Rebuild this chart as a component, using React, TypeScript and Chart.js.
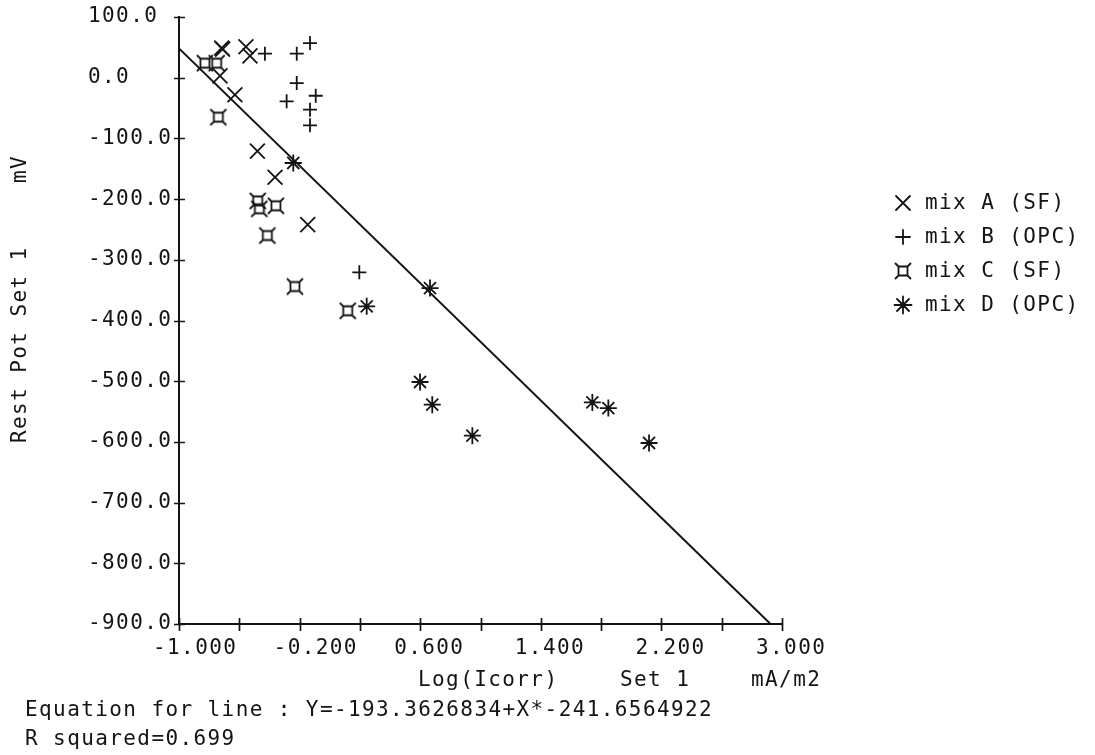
import React, { useEffect, useRef } from 'react';
import { Chart, registerables } from 'chart.js';

Chart.register(...registerables);

// ---- data ----
const mixAX = [-0.717, -0.711, -0.556, -0.529, -0.728, -0.629, -0.48, -0.363, -0.146];
const mixAY = [49, 47, 51, 36, 3, -28, -121, -164, -242];
const mixBX = [-0.43, -0.219, -0.131, -0.219, -0.093, -0.286, -0.131, -0.131, 0.196];
const mixBY = [39.5, 39.5, 57, -8.8, -29.7, -39, -52.7, -78.5, -320.7];
const mixCX = [-0.828, -0.75, -0.739, -0.478, -0.467, -0.357, -0.414, -0.231, 0.119];
const mixCY = [24, 24, -65, -203, -216, -211, -260, -344, -384];
const mixDX = [-0.242, 0.245, 0.665, 0.599, 0.68, 0.946, 1.742, 1.848, 2.118];
const mixDY = [-140.5, -376.7, -346.5, -501.3, -538.7, -589.8, -534.9, -544.2, -601.8];
const fitX = [-1.0, 2.924];
const fitY = [48.3, -900];

const seriesNames = ['mix A (SF)', 'mix B (OPC)', 'mix C (SF)', 'mix D (OPC)'];
const seriesSymbols = ['x', 'plus', 'sq', 'star'];
const xTickLabels = ['-1.000', '-0.200', '0.600', '1.400', '2.200', '3.000'];
const yTickLabels = ['-900.0', '-800.0', '-700.0', '-600.0', '-500.0', '-400.0', '-300.0', '-200.0', '-100.0', '0.0', '100.0'];
const xTitleParts = ['Log(Icorr)', 'Set 1', 'mA/m2'];
const yTitleParts = ['Rest Pot Set 1', 'mV'];
const equationText = 'Equation for line : Y=-193.3626834+X*-241.6564922';
const rSquaredText = 'R squared=0.699';

const INK = '#141414';
const FONT_FAMILY = '"DejaVu Sans Mono", "Liberation Mono", monospace';
const FONT_SIZE = 21;
const FONT = FONT_SIZE + 'px ' + FONT_FAMILY;
const SPACING = '1.4px';

function pts(xs: number[], ys: number[]) {
  return xs.map((x, i) => ({ x, y: ys[i] }));
}

function drawSymbol(ctx: CanvasRenderingContext2D, kind: string, x: number, y: number) {
  ctx.save();
  ctx.strokeStyle = INK;
  ctx.lineWidth = 1.8;
  ctx.lineCap = 'round';
  ctx.beginPath();
  if (kind === 'x') {
    const d = 7;
    ctx.moveTo(x - d, y - d); ctx.lineTo(x + d, y + d);
    ctx.moveTo(x + d, y - d); ctx.lineTo(x - d, y + d);
  } else if (kind === 'plus') {
    const d = 7;
    ctx.moveTo(x - d, y); ctx.lineTo(x + d, y);
    ctx.moveTo(x, y - d); ctx.lineTo(x, y + d);
  } else if (kind === 'sq') {
    const s = 4.5, t = 7.5;
    ctx.rect(x - s, y - s, 2 * s, 2 * s);
    ctx.moveTo(x - s, y - s); ctx.lineTo(x - t, y - t);
    ctx.moveTo(x + s, y - s); ctx.lineTo(x + t, y - t);
    ctx.moveTo(x - s, y + s); ctx.lineTo(x - t, y + t);
    ctx.moveTo(x + s, y + s); ctx.lineTo(x + t, y + t);
  } else {
    const r = 8.5, d = 6;
    ctx.moveTo(x - r, y); ctx.lineTo(x + r, y);
    ctx.moveTo(x, y - r); ctx.lineTo(x, y + r);
    ctx.moveTo(x - d, y - d); ctx.lineTo(x + d, y + d);
    ctx.moveTo(x + d, y - d); ctx.lineTo(x - d, y + d);
  }
  ctx.stroke();
  ctx.restore();
}

function makeSquareMarker(): HTMLCanvasElement {
  const c = document.createElement('canvas');
  c.width = 20;
  c.height = 20;
  const g = c.getContext('2d')!;
  drawSymbol(g, 'sq', 10, 10);
  return c;
}

const plotterPlugin = {
  id: 'plotter',
  beforeUpdate(chart: any) {
    chart.ctx.letterSpacing = SPACING;
  },
  beforeDraw(chart: any) {
    const ctx = chart.ctx;
    ctx.save();
    ctx.fillStyle = '#ffffff';
    ctx.fillRect(0, 0, chart.width, chart.height);
    ctx.restore();
    ctx.letterSpacing = SPACING;
  },
  afterDraw(chart: any) {
    const ctx: CanvasRenderingContext2D = chart.ctx;
    const xs = chart.scales.x;
    const ys = chart.scales.y;
    ctx.save();
    ctx.strokeStyle = INK;
    ctx.lineWidth = 1.7;
    ctx.beginPath();
    xs.ticks.forEach((_t: any, i: number) => {
      const px = Math.round(xs.getPixelForTick(i)) + 0.5;
      ctx.moveTo(px, xs.top - 6);
      ctx.lineTo(px, xs.top + 7);
    });
    ys.ticks.forEach((_t: any, i: number) => {
      const py = Math.round(ys.getPixelForTick(i)) + 0.5;
      ctx.moveTo(ys.right - 5, py);
      ctx.lineTo(ys.right + 6, py);
    });
    ctx.stroke();

    ctx.fillStyle = INK;
    ctx.font = FONT;
    (ctx as any).letterSpacing = SPACING;
    ctx.textBaseline = 'middle';
    ctx.textAlign = 'left';

    // x axis title pieces
    const xTitleX = [418, 620, 751];
    xTitleParts.forEach((t, i) => ctx.fillText(t, xTitleX[i], 681));

    // y axis title (rotated)
    ctx.save();
    ctx.translate(21, 443);
    ctx.rotate(-Math.PI / 2);
    ctx.fillText(yTitleParts[0], 0, 0);
    ctx.fillText(yTitleParts[1], 260, 0);
    ctx.restore();

    // legend
    seriesNames.forEach((name, i) => {
      const y = 203 + i * 34;
      drawSymbol(ctx, seriesSymbols[i], 903, y);
      ctx.fillText(name, 925, y + 1);
    });

    // equation lines
    ctx.fillText(equationText, 25, 711);
    ctx.fillText(rSquaredText, 25, 740);
    ctx.restore();
  },
};

export default function App() {
  const ref = useRef<HTMLCanvasElement | null>(null);

  useEffect(() => {
    if (!ref.current) return;
    const sq = makeSquareMarker();
    const common = {
      showLine: false,
      backgroundColor: 'rgba(0,0,0,0)',
      borderColor: INK,
      pointBorderColor: INK,
      pointBackgroundColor: 'rgba(0,0,0,0)',
      pointBorderWidth: 1.8,
      pointHoverRadius: 0,
    };
    const chart = new Chart(ref.current, {
      type: 'scatter',
      data: {
        datasets: [
          { ...common, label: seriesNames[0], data: pts(mixAX, mixAY), pointStyle: 'crossRot', pointRadius: 10.5 },
          { ...common, label: seriesNames[1], data: pts(mixBX, mixBY), pointStyle: 'cross', pointRadius: 7 },
          { ...common, label: seriesNames[2], data: pts(mixCX, mixCY), pointStyle: sq as any, pointRadius: 8 },
          { ...common, label: seriesNames[3], data: pts(mixDX, mixDY), pointStyle: 'star', pointRadius: 8.5 },
          {
            label: 'fit',
            data: pts(fitX, fitY),
            showLine: true,
            borderColor: INK,
            borderWidth: 2,
            pointRadius: 0,
            pointHoverRadius: 0,
            fill: false,
          } as any,
        ],
      },
      options: {
        animation: false,
        responsive: false,
        events: [],
        layout: { padding: { left: 88, top: 17, right: 313, bottom: 91 } },
        plugins: {
          legend: { display: false },
          tooltip: { enabled: false },
        },
        elements: { line: { tension: 0 } },
        scales: {
          x: {
            type: 'linear',
            min: -1,
            max: 3,
            grid: { drawOnChartArea: false, drawTicks: false },
            border: { display: true, color: INK, width: 2 },
            afterFit: (s: any) => { s.height = 40; },
            ticks: {
              stepSize: 0.4,
              autoSkip: false,
              maxRotation: 0,
              minRotation: 0,
              align: 'start',
              labelOffset: -26,
              padding: 12,
              color: INK,
              font: { family: FONT_FAMILY, size: FONT_SIZE },
              callback: (_v: any, i: number) => (i % 2 === 0 ? xTickLabels[i / 2] : ''),
            },
          },
          y: {
            type: 'linear',
            min: -900,
            max: 100,
            grid: { drawOnChartArea: false, drawTicks: false },
            border: { display: true, color: INK, width: 2 },
            afterFit: (s: any) => { s.width = 91; },
            ticks: {
              stepSize: 100,
              autoSkip: false,
              crossAlign: 'far',
              padding: 4,
              color: INK,
              font: { family: FONT_FAMILY, size: FONT_SIZE },
              callback: (v: any) => {
                const idx = Math.round((Number(v) + 900) / 100);
                return yTickLabels[idx] ?? '';
              },
            },
          },
        },
      } as any,
      plugins: [plotterPlugin as any],
    });
    return () => chart.destroy();
  }, []);

  return (
    <div style={{ position: 'absolute', left: 0, top: 0, width: 1095, height: 755, background: '#fff' }}>
      <canvas ref={ref} width={1095} height={755} style={{ display: 'block', width: 1095, height: 755 }} />
    </div>
  );
}
